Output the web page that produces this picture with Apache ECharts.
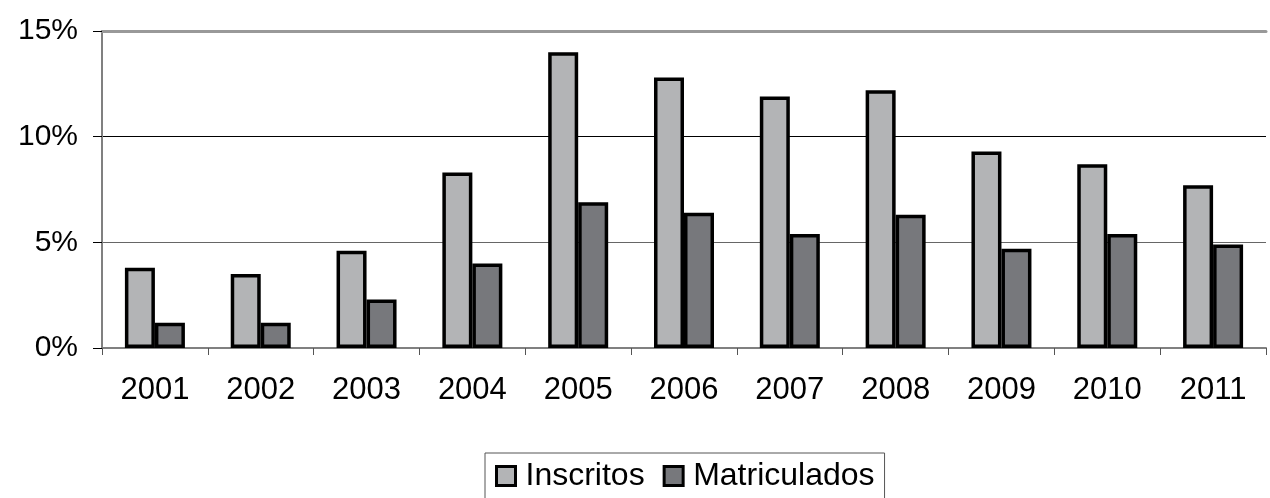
<!DOCTYPE html>
<html>
<head>
<meta charset="utf-8">
<script src="https://cdn.jsdelivr.net/npm/echarts@6/dist/echarts.min.js"></script>
<style>html,body{margin:0;padding:0;background:#fff}#c{width:1270px;height:498px}</style>
</head>
<body>
<div id="c"></div>
<script>
const categories = ['2001','2002','2003','2004','2005','2006','2007','2008','2009','2010','2011'];
const inscritos = [3.8, 3.5, 4.6, 8.3, 14.0, 12.8, 11.9, 12.2, 9.3, 8.7, 7.7];
const matriculados = [1.2, 1.2, 2.3, 4.0, 6.9, 6.4, 5.4, 6.3, 4.7, 5.4, 4.9];
const seriesNames = ['Inscritos', 'Matriculados'];

const chart = echarts.init(document.getElementById('c'));
const font = 'Liberation Sans, Arial, sans-serif';
chart.setOption({
  animation: false,
  backgroundColor: '#fff',
  grid: { left: 102, right: 4, top: 31, bottom: 150 },
  legend: {
    left: 485, top: 453,
    padding: [7, 10, 12, 10],
    borderColor: '#555', borderWidth: 1,
    icon: 'rect',
    itemWidth: 19, itemHeight: 19, itemGap: 18,
    itemStyle: { borderColor: '#000', borderWidth: 3 },
    textStyle: { fontFamily: font, fontSize: 32, color: '#000', padding: [0, 0, 0, 5] },
    data: seriesNames
  },
  xAxis: [{
    type: 'category',
    data: categories,
    axisLine: { lineStyle: { color: '#808080', width: 2 } },
    axisTick: { show: true, length: 7, lineStyle: { color: '#555' } },
    axisLabel: { fontFamily: font, fontSize: 31, color: '#000', margin: 27 }
  }, {
    type: 'category',
    position: 'top',
    data: categories,
    axisLine: { lineStyle: { color: '#999', width: 3 } },
    axisTick: { show: false },
    axisLabel: { show: false }
  }],
  yAxis: {
    type: 'value',
    min: 0, max: 15, interval: 5,
    axisLine: { show: true, lineStyle: { color: '#808080', width: 2 } },
    axisTick: { show: true, inside: false, length: 9, lineStyle: { color: '#000' } },
    axisLabel: { fontFamily: font, fontSize: 30, color: '#000', margin: 24, formatter: '{value}%' },
    splitLine: { show: true, lineStyle: { color: ['#888', '#666', '#000', '#999'], width: 1 } }
  },
  series: [{
    name: seriesNames[0],
    type: 'bar',
    data: inscritos,
    barWidth: 30,
    barGap: '0%',
    itemStyle: { color: '#b3b4b6', borderColor: '#000', borderWidth: 3.5 }
  }, {
    name: seriesNames[1],
    type: 'bar',
    data: matriculados,
    barWidth: 30,
    barGap: '0%',
    itemStyle: { color: '#77787c', borderColor: '#000', borderWidth: 3.5 }
  }]
});
</script>
</body>
</html>
